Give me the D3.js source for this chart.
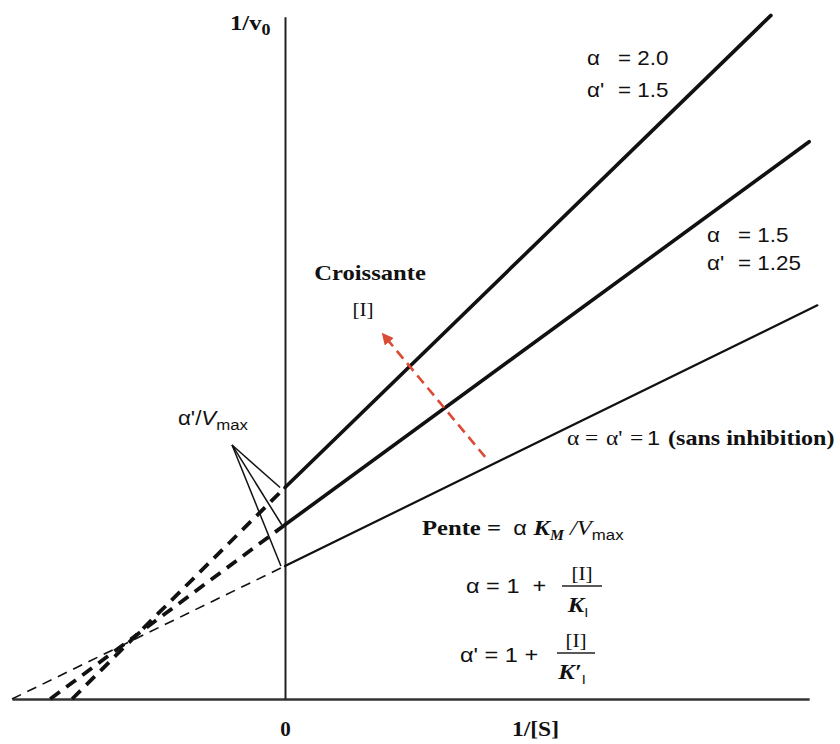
<!DOCTYPE html>
<html>
<head>
<meta charset="utf-8">
<script src="https://cdn.jsdelivr.net/npm/d3@7"></script>
<style>
  body { margin: 0; background: #fff; }
  svg { display: block; }
</style>
</head>
<body>
<div id="chart"></div>
<script>
// Lineweaver-Burk plot, mixed inhibition (units: K_M = 1, Vmax = 1)
const alphas      = [1.0, 1.5, 2.0];
const alphaPrimes = [1.0, 1.25, 1.5];
const yIntercepts = [1.0, 1.31, 1.59];    // 1/v0 where 1/[S] = 0
const xCrossings  = [-1.0, -0.86, -0.78]; // where dashed extension meets the x axis
const xEnds       = [1.95, 1.92, 1.78];
const yEnds       = [2.96, 4.19, 5.14];

const xAxisExtent = [-1.0, 1.92];
const yAxisExtent = [0, 5.13];

// arrow "Croissante [I]" and the alpha'/Vmax callout, in data units
const arrowFrom = [0.733, 1.82];
const arrowTo   = [0.36, 2.74];
const calloutApex = [-0.194, 1.91];
const calloutEnds = [[-0.015, 1.0], [-0.012, 1.31], [-0.018, 1.59]];

const width = 840, height = 744;
const SX = 1.12; // the original lettering is a bit wider than our fonts
const serif = "'Liberation Serif', 'Times New Roman', serif";
const sans = "'Liberation Sans', Arial, sans-serif";

const x = d3.scaleLinear().domain([-1, 2]).range([12, 831]);
const y = d3.scaleLinear().domain([0, 5]).range([699, 34]);

const svg = d3.select("#chart").append("svg")
    .attr("width", width)
    .attr("height", height)
    .style("background", "#fff");

svg.append("defs").append("marker")
    .attr("id", "arrowhead")
    .attr("viewBox", "0 0 10 10")
    .attr("refX", 8).attr("refY", 5)
    .attr("markerWidth", 4.5).attr("markerHeight", 4.5)
    .attr("markerUnits", "strokeWidth")
    .attr("orient", "auto")
    .append("path")
    .attr("d", "M0,0L10,5L0,10z")
    .attr("fill", "#dd4a33");

/////////////////////////////////////////////////////////
//////////////////////// Axes ///////////////////////////
/////////////////////////////////////////////////////////

const xAxisScale = d3.scaleLinear().domain(xAxisExtent).range([x(xAxisExtent[0]), x(xAxisExtent[1])]);
const yAxisScale = d3.scaleLinear().domain(yAxisExtent).range([y(yAxisExtent[0]), y(yAxisExtent[1])]);

const gx = svg.append("g")
    .attr("transform", "translate(0," + y(0) + ")")
    .call(d3.axisBottom(xAxisScale).tickValues([0]).tickSize(0).tickSizeOuter(0).tickPadding(22).tickFormat(d3.format("d")));
gx.select(".domain").attr("stroke", "#333").attr("stroke-width", 2.6);
gx.selectAll("text").attr("font-family", serif).attr("font-weight", "bold").attr("font-size", 21).attr("fill", "#111");

const gy = svg.append("g")
    .attr("transform", "translate(" + x(0) + ",0)")
    .call(d3.axisLeft(yAxisScale).tickValues([]).tickSizeOuter(0));
gy.select(".domain").attr("stroke", "#222").attr("stroke-width", 2);

/////////////////////////////////////////////////////////
//////////////////////// Lines //////////////////////////
/////////////////////////////////////////////////////////

const lines = alphas.map((a, i) => ({
    alpha: a,
    alphaPrime: alphaPrimes[i],
    dashed: [[xCrossings[i], 0], [0, yIntercepts[i]]],
    solid: [[0, yIntercepts[i]], [xEnds[i], yEnds[i]]]
}));

const line = d3.line().x(d => x(d[0])).y(d => y(d[1]));

const g = svg.selectAll(".series")
    .data(lines)
    .enter().append("g")
    .attr("class", "series");

g.append("path")
    .attr("d", d => line(d.dashed))
    .attr("fill", "none")
    .attr("stroke", "#111")
    .attr("stroke-width", d => d.alpha === 1 ? 1.6 : 3.8)
    .attr("stroke-dasharray", d => d.alpha === 1 ? "10,7" : "12,8");

g.append("path")
    .attr("d", d => line(d.solid))
    .attr("fill", "none")
    .attr("stroke", "#111")
    .attr("stroke-width", d => d.alpha === 1 ? 2.2 : 3.6)
    .attr("stroke-linecap", "round");

// callout from alpha'/Vmax to the three intercepts
svg.append("g").selectAll("line")
    .data(calloutEnds)
    .enter().append("line")
    .attr("x1", x(calloutApex[0])).attr("y1", y(calloutApex[1]))
    .attr("x2", d => x(d[0])).attr("y2", d => y(d[1]))
    .attr("stroke", "#111")
    .attr("stroke-width", 1.5);

// red dashed arrow
svg.append("line")
    .attr("x1", x(arrowFrom[0])).attr("y1", y(arrowFrom[1]))
    .attr("x2", x(arrowTo[0])).attr("y2", y(arrowTo[1]))
    .attr("stroke", "#dd4a33")
    .attr("stroke-width", 2.6)
    .attr("stroke-dasharray", "10,6")
    .attr("marker-end", "url(#arrowhead)");

/////////////////////////////////////////////////////////
//////////////////////// Labels /////////////////////////
/////////////////////////////////////////////////////////

// parts: [text, family, size, weight, style, dy]
function label(px, py, parts, anchor) {
    const t = svg.append("text")
        .attr("transform", "translate(" + px + "," + py + ") scale(" + SX + ",1)")
        .attr("text-anchor", anchor || "start")
        .attr("fill", "#111")
        .attr("xml:space", "preserve");
    parts.forEach(p => {
        t.append("tspan")
            .attr("font-family", p[1])
            .attr("font-size", p[2])
            .attr("font-weight", p[3] || "normal")
            .attr("font-style", p[4] || "normal")
            .attr("dy", p[5] || 0)
            .text(p[0]);
    });
    return t;
}

const fmt = d3.format(".1f");
const fmtP = v => (v * 100) % 10 === 0 ? fmt(v) : d3.format(".2f")(v);

label(230, 30, [["1/v", serif, 22, "bold"], ["0", serif, 16, "bold", "normal", 5]]);
label(512, 736, [["1/[S]", serif, 21, "bold"]]);

// curve labels
label(587, 65, [["α", sans, 20, 500]]);
label(618, 65, [["= " + fmt(alphas[2]), sans, 20, 500]]);
label(587, 97, [["α'", sans, 20, 500]]);
label(618, 97, [["= " + fmtP(alphaPrimes[2]), sans, 20, 500]]);

label(707, 242, [["α", sans, 20, 500]]);
label(738, 242, [["= " + fmt(alphas[1]), sans, 20, 500]]);
label(707, 270, [["α'", sans, 20, 500]]);
label(738, 270, [["= " + fmtP(alphaPrimes[1]), sans, 20, 500]]);

// "α = α' = 1 (sans inhibition)", pieces placed as in the original
label(567, 445, [["α", serif, 21]]);
label(585, 445, [["=", serif, 21]]);
label(606, 445, [["α'", serif, 21]]);
label(630, 445, [["=", serif, 21]]);
label(647, 445, [[fmt(alphas[0]).charAt(0), sans, 21]]);
label(668, 445, [["(sans inhibition)", serif, 21.5, "bold"]]);

label(370, 280, [["Croissante", serif, 22, "bold"]], "middle");
label(363, 316, [["[I]", serif, 19]], "middle");

label(248, 425, [["α'/", sans, 20], ["V", sans, 20, "normal", "italic"], ["max", sans, 15, "normal", "normal", 5]], "end");

// slope formula
label(422, 535, [["Pente", serif, 22, "bold"], [" =  ", serif, 22, "bold"], ["α ", sans, 21],
    ["K", serif, 22, "bold", "italic"], ["M", serif, 14, "bold", "italic", 5],
    [" /", serif, 22, "normal", "italic", -5], ["V", serif, 22, "normal", "italic"],
    ["max", sans, 15, "normal", "normal", 5]]);

function fraction(cx, barY, x0, x1, denom) {
    svg.append("line")
        .attr("x1", x0).attr("x2", x1)
        .attr("y1", barY).attr("y2", barY)
        .attr("stroke", "#222").attr("stroke-width", 1.5);
    label(cx, barY - 6, [["[I]", serif, 19]], "middle");
    label(cx - 4, barY + 26, [[denom, serif, 22, "bold", "italic"], ["I", sans, 13, "normal", "normal", 5]], "middle");
}

label(466, 593, [["α = 1  +", sans, 21]]);
fraction(582, 586, 562, 602, "K");

label(460, 662, [["α' = 1 +", sans, 21]]);
fraction(576, 653, 557, 595, "K′");
</script>
</body>
</html>
